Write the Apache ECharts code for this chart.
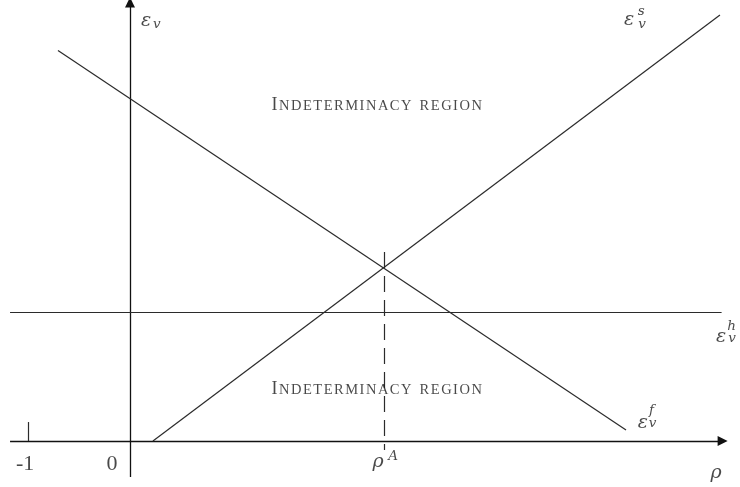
<!DOCTYPE html>
<html>
<head>
<meta charset="utf-8">
<style>html,body{margin:0;padding:0;background:#fff}#c{width:740px;height:487px}</style>
<script src="https://cdn.jsdelivr.net/npm/echarts@6/dist/echarts.min.js"></script>
</head>
<body>
<div id="c"></div>
<script>
// Schematic values, in units of rho (x) and epsilon_v (y)
var horizAxis = [[-1.176, 0], [5.81, 0]];
var vertAxis = [[0, -0.28], [0, 3.40]];
var epsH = [[-1.176, 1.0], [5.80, 1.0]];
var epsF = [[-0.706, 3.027], [4.863, 0.085]];
var epsS = [[0.225, 0], [5.784, 3.302]];
var rhoA = 2.49;
var rhoADash = [1.465, -0.07];
var tickMinusOne = [[-1, 0], [-1, 0.147]];
// text annotations: [x, y, text, style]
var annotations = [
  [0.157, 3.255, 'ε', 'main'], [0.262, 3.225, 'v', 'sub'],
  [4.892, 3.262, 'ε', 'main'], [5.012, 3.329, 's', 'sub'], [5.020, 3.225, 'v', 'sub'],
  [5.794, 0.806, 'ε', 'main'], [5.897, 0.886, 'h', 'sub'], [5.902, 0.791, 'v', 'sub'],
  [5.029, 0.140, 'ε', 'main'], [5.113, 0.233, 'f', 'sub'], [5.123, 0.132, 'v', 'sub'],
  [5.745, -0.245, 'ρ', 'main'],
  [2.431, -0.160, 'ρ', 'main'], [2.580, -0.124, 'A', 'sub'],
  [-1.029, -0.178, '-1', 'num'], [-0.176, -0.178, '0', 'num'],
  [2.422, 2.605, 'I|NDETERMINACY REGION', 'sc'],
  [2.422, 0.403, 'I|NDETERMINACY REGION', 'sc']
];

var W = 740, H = 487;
var x0px = 130, y0px = 441, xUnit = 102, yUnit = 129;
var lineColor = '#2b2b2b';

function seg(coords, extra) {
  return Object.assign({ coords: coords }, extra || {});
}

var styles = {
  main: { fontFamily: 'DejaVu Serif', fontStyle: 'italic', fontSize: 19 },
  sub: { fontFamily: 'DejaVu Serif', fontStyle: 'italic', fontSize: 13.5 },
  num: { fontFamily: 'Liberation Serif', fontSize: 22 },
  sc: {}
};

function smallCaps(first, rest) {
  var s = '{c|' + first + '}';
  for (var i = 0; i < rest.length; i++) {
    var ch = rest[i];
    s += ch === ' ' ? '{sp| }' : '{s|' + ch + '}';
  }
  return s;
}

var chart = echarts.init(document.getElementById('c'), null, { renderer: 'canvas' });
chart.setOption({
  animation: false,
  backgroundColor: '#fff',
  grid: { left: 0, right: 0, top: 0, bottom: 0, containLabel: false },
  xAxis: { type: 'value', min: -x0px / xUnit, max: (W - x0px) / xUnit, show: false },
  yAxis: { type: 'value', min: -(H - y0px) / yUnit, max: y0px / yUnit, show: false },
  series: [
    {
      type: 'lines', coordinateSystem: 'cartesian2d', silent: true,
      symbol: ['none', 'triangle'], symbolSize: [7, 10],
      lineStyle: { color: '#111', width: 1.3, opacity: 1 },
      itemStyle: { color: '#111' },
      data: [seg(horizAxis), seg(vertAxis)]
    },
    {
      type: 'lines', coordinateSystem: 'cartesian2d', silent: true,
      symbol: 'none',
      lineStyle: { color: lineColor, width: 1.2, opacity: 1 },
      data: [seg(epsH), seg(epsF), seg(epsS), seg(tickMinusOne)]
    },
    {
      type: 'lines', coordinateSystem: 'cartesian2d', silent: true,
      symbol: 'none',
      lineStyle: { color: lineColor, width: 1.2, opacity: 1, type: [16, 8] },
      data: [seg([[rhoA, rhoADash[0]], [rhoA, rhoADash[1]]])]
    },
    {
      type: 'scatter', silent: true, symbolSize: 0,
      data: annotations.map(function (a) {
        var st = a[3];
        var label;
        if (st === 'sc') {
          var parts = a[2].split('|');
          label = {
            show: true, position: [0, 0], align: 'center', verticalAlign: 'middle',
            formatter: smallCaps(parts[0], parts[1]),
            rich: {
              c: { fontFamily: 'Liberation Serif', fontSize: 18, color: '#1a1a1a', verticalAlign: 'bottom', lineHeight: 18, padding: [0, 0.8, 0, 0] },
              s: { fontFamily: 'Liberation Serif', fontSize: 14.5, color: '#1a1a1a', verticalAlign: 'bottom', lineHeight: 18, padding: [0, 0.75, 0, 0.75] },
              sp: { fontFamily: 'Liberation Serif', fontSize: 14.5, color: '#1a1a1a', verticalAlign: 'bottom', lineHeight: 18, padding: [0, 1.5, 0, 1.5] }
            }
          };
        } else {
          label = Object.assign({
            show: true, position: [0, 0], align: 'center', verticalAlign: 'middle',
            formatter: a[2], color: '#1a1a1a'
          }, styles[st]);
        }
        return { value: [a[0], a[1]], label: label };
      })
    }
  ]
});
</script>
</body>
</html>
